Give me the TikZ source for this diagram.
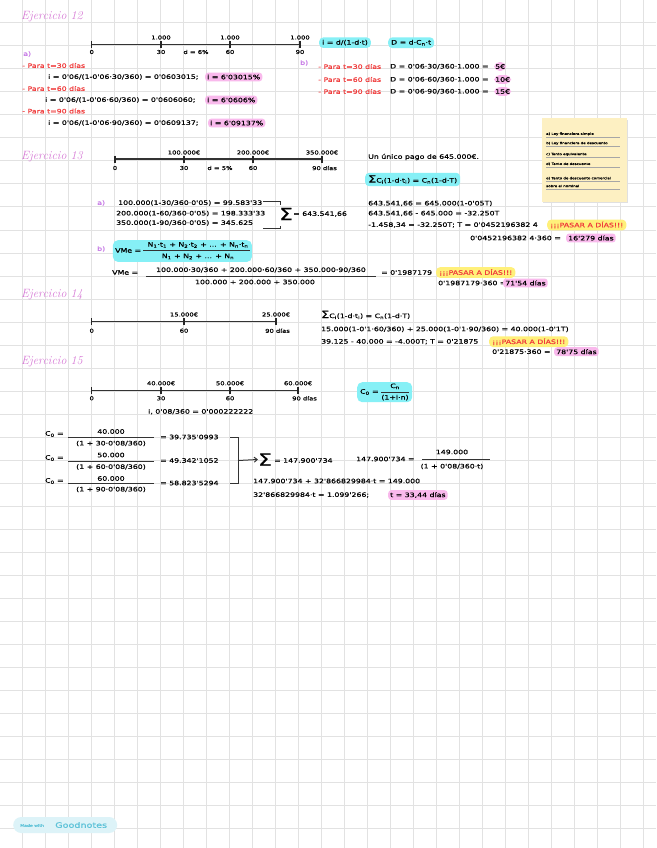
\documentclass[tikz,border=0pt]{standalone}
\usepackage{fontspec}
\newfontfamily\hw{DejaVu Sans}[FakeStretch=1.28, FakeBold=0.6]
\usetikzlibrary{arrows.meta}
\definecolor{gridc}{HTML}{E2E2E2}
\definecolor{titc}{HTML}{D77AD6}
\definecolor{redc}{HTML}{F03C3C}
\definecolor{vio}{HTML}{C77BE6}
\definecolor{pinkhl}{HTML}{F9B9EC}
\definecolor{cyanhl}{HTML}{86F0F6}
\definecolor{yelhl}{HTML}{FFF07A}
\definecolor{notec}{HTML}{FDF0C2}
\definecolor{gnbg}{HTML}{DDF3F8}
\definecolor{gntx}{HTML}{5CC2D8}
\newcommand\mysb[1]{\textsubscript{#1}}
\tikzset{
  tx/.style={inner sep=0pt, anchor=west, font=\hw\fontsize{6.1}{7}\selectfont},
  rt/.style={tx, text=redc},
  vt/.style={tx, text=vio},
  sm/.style={inner sep=0pt, font=\hw\fontsize{5.3}{6}\selectfont},
  ttl/.style={inner sep=0pt, anchor=west, text=titc, font=\fontsize{12}{13}\selectfont\itshape},
  pk/.style={tx, fill=pinkhl, rounded corners=3pt, inner xsep=2pt, inner ysep=2pt},
  cy/.style={tx, fill=cyanhl, rounded corners=4pt, inner xsep=3pt, inner ysep=2.5pt},
  yl/.style={tx, fill=yelhl, text=redc, rounded corners=4pt, inner xsep=3pt, inner ysep=2pt},
  axisl/.style={line width=1.4pt, black!80},
  tickl/.style={line width=1.1pt, black!85},
  frl/.style={line width=0.7pt, black!80},
  bigs/.style={inner sep=0pt, font=\hw\fontsize{17}{17}\selectfont},
  note/.style={inner sep=0pt, anchor=west, font=\hw\fontsize{3.1}{4}\selectfont},
}
\begin{document}
\begin{tikzpicture}[x=1pt,y=-1pt]
\useasboundingbox (0,0) rectangle (656,848);
\fill[white] (0,0) rectangle (656,848);
% grid
\foreach \k in {0,...,27} \draw[gridc, line width=0.9pt] (22.7+23*\k,0) -- (22.7+23*\k,848);
\foreach \k in {0,...,35} \draw[gridc, line width=0.9pt] (0,22.7+23.03*\k) -- (656,22.7+23.03*\k);

%================ Ejercicio 12
\node[ttl] (t12) at (21,17) {Ejercicio 12};
\coordinate (a0) at (91.7,44.3); \coordinate (a1) at (161,44.3);
\coordinate (a2) at (230,44.3); \coordinate (a3) at (300,44.3);
\draw[axisl] (a0) -- (a3);
\foreach \c in {a0,a1,a2,a3} \draw[tickl] (\c) ++(0,-3.5) -- ++(0,7);
\node[sm] (a1u) at (161,37.5) {1.000};
\node[sm] (a2u) at (230,37.5) {1.000};
\node[sm] (a3u) at (300,37.5) {1.000};
\node[sm] (a0d) at (91.7,52) {0};
\node[sm] (a1d) at (161,52) {30};
\node[sm] (ad) at (196,52) {d = 6\%};
\node[sm] (a2d) at (230,52) {60};
\node[sm] (a3d) at (300,52) {90};
\node[vt] (a12) at (23,54) {a)};
\node[rt] (r1) at (22,65.5) {- Para t=30 días};
\node[tx] (f1) at (48,77) {i = 0'06/(1-0'06·30/360) = 0'0603015;};
\node[pk] (h1) at (205,77) {i = 6'03015\%};
\node[rt] (r2) at (22,88.5) {- Para t=60 días};
\node[tx] (f2) at (45,100) {i = 0'06/(1-0'06·60/360) = 0'0606060;};
\node[pk] (h2) at (205,100) {i = 6'0606\%};
\node[rt] (r3) at (22,111) {- Para t=90 días};
\node[tx] (f3) at (48,123) {i = 0'06/(1-0'06·90/360) = 0'0609137;};
\node[pk] (h3) at (208,123) {i = 6'09137\%};
\node[cy] (c1) at (319,42.7) {i = d/(1-d·t)};
\node[cy] (c2) at (388,42.7) {D = d·C\mysb{n}·t};
\node[vt] (b12) at (300,63) {b)};
\node[rt] (r4) at (318,66.5) {- Para t=30 días};
\node[tx] (g1) at (390,66.5) {D = 0'06·30/360·1.000 =};
\node[pk, rounded corners=5pt, inner xsep=1pt] (k1) at (494,66.5) {5€};
\node[rt] (r5) at (318,79.5) {- Para t=60 días};
\node[tx] (g2) at (390,79.5) {D = 0'06·60/360·1.000 =};
\node[pk, rounded corners=5pt, inner xsep=1pt] (k2) at (494,79.5) {10€};
\node[rt] (r6) at (318,91.5) {- Para t=90 días};
\node[tx] (g3) at (390,91.5) {D = 0'06·90/360·1.000 =};
\node[pk, rounded corners=5pt, inner xsep=1pt] (k3) at (494,91.5) {15€};

% sticky note
\fill[black!12] (543,120) rectangle (628,203);
\node[fill=notec, minimum width=85pt, minimum height=83.4pt, inner sep=0, anchor=north west] (nt) at (541.7,118.3) {};
\foreach \yy/\tt in {134/{a) Ley financiera simple},143.3/{b) Ley financiera de descuento},154.3/{c) Tanto equivalente},164/{d) Tanto de descuento},178.3/{e) Tanto de descuento comercial},186/{sobre el nominal}}{
  \node[note] at (546,\yy) {\tt};
  \draw[black!35, line width=0.3pt] (546,\yy+3) -- (620,\yy+3);
}

%================ Ejercicio 13
\node[ttl] (t13) at (21,157) {Ejercicio 13};
\coordinate (b0) at (115,159); \coordinate (b1) at (184,159);
\coordinate (b2) at (253,159); \coordinate (b3) at (322,159);
\draw[axisl] (b0) -- (b3);
\foreach \c in {b0,b1,b2,b3} \draw[tickl] (\c) ++(0,-3.5) -- ++(0,7);
\node[sm] (b1u) at (184,152.5) {100.000€};
\node[sm] (b2u) at (253,152.5) {200.000€};
\node[sm] (b3u) at (322,152.5) {350.000€};
\node[sm] (b0d) at (115,168) {0};
\node[sm] (b1d) at (184,168) {30};
\node[sm] (bd) at (220,168) {d = 5\%};
\node[sm] (b2d) at (253,168) {60};
\node[sm, anchor=west] (b3d) at (312,168) {90 días};
\node[tx] (u1) at (368,157) {Un único pago de 645.000€.};
\node[cy] (c3) at (365,179.5) {{\fontsize{10}{10}\selectfont Σ}C\mysb{i}(1-d·t\mysb{i}) = C\mysb{n}(1-d·T)};
\node[tx] (u2) at (368,203.5) {643.541,66 = 645.000(1-0'05T)};
\node[tx] (u3) at (368,213.5) {643.541,66 - 645.000 = -32.250T};
\node[tx] (u4) at (368,225) {-1.458,34 = -32.250T;\ T = 0'0452196382 4};
\node[yl] (y1) at (547,225) {¡¡¡PASAR A DÍAS!!!};
\node[tx] (u5) at (470,238) {0'0452196382 4·360 =};
\node[pk] (h4) at (566,238) {16'279 días};

\node[vt] (a13) at (97,203) {a)};
\node[tx] (v1) at (118,203) {100.000(1-30/360·0'05) = 99.583'33};
\node[tx] (v2) at (116,213.5) {200.000(1-60/360·0'05) = 198.333'33};
\node[tx] (v3) at (116,223) {350.000(1-90/360·0'05) = 345.625};
\coordinate (bra) at (263,201.5); \coordinate (brb) at (280,201.5);
\coordinate (brc) at (263,228.5); \coordinate (brd) at (280,228.5);
\draw[frl, line width=1pt] (bra) -- (brb) -- ++(0,3);
\draw[frl, line width=1pt] (brc) -- (brd) -- ++(0,-3);
\node[bigs] (s1) at (286,214) {Σ};
\node[tx] (v4) at (293,214) {= 643.541,66};

\node[vt] (b13) at (97,249) {b)};
\node[fill=cyanhl, rounded corners=5pt, minimum width=139pt, minimum height=21.7pt, inner sep=0, anchor=north west] (cvm) at (112.7,240) {};
\node[tx] (vm1) at (115,250.5) {VMe =};
\node[tx, anchor=center] (vm1n) at (198,245) {N\mysb{1}·t\mysb{1} + N\mysb{2}·t\mysb{2} + ... + N\mysb{n}·t\mysb{n}};
\node[tx, anchor=center] (vm1d) at (198,256.5) {N\mysb{1} + N\mysb{2} + ... + N\mysb{n}};
\draw[frl] (143,250.5) -- (250,250.5);
\node[tx] (vm2) at (112,272.5) {VMe =};
\node[tx, anchor=center] (vm2n) at (261,270) {100.000·30/360 + 200.000·60/360 + 350.000·90/360};
\node[tx, anchor=center] (vm2d) at (255,282) {100.000 + 200.000 + 350.000};
\draw[frl] (146,276) -- (376,276);
\node[tx] (vm3) at (381,272.5) {= 0'1987179};
\node[yl] (y2) at (436,272.5) {¡¡¡PASAR A DÍAS!!!};
\node[tx] (vm4) at (438,283) {0'1987179·360 =};
\node[pk] (h5) at (503,283) {71'54 días};

%================ Ejercicio 14
\node[ttl] (t14) at (21,295) {Ejercicio 14};
\coordinate (c0) at (91.7,321.7); \coordinate (cc1) at (184,321.7); \coordinate (cc2) at (276,321.7);
\draw[axisl] (c0) -- (cc2);
\foreach \c in {c0,cc1,cc2} \draw[tickl] (\c) ++(0,-3.5) -- ++(0,7);
\node[sm] (c1u) at (184,314.5) {15.000€};
\node[sm] (c2u) at (276,314.5) {25.000€};
\node[sm] (c0d) at (91.7,330.7) {0};
\node[sm] (c1d) at (184,330.7) {60};
\node[sm, anchor=west] (c2d) at (265,330.7) {90 días};
\node[tx] (w1) at (321,315) {{\fontsize{10}{10}\selectfont Σ}C\mysb{i}(1-d·t\mysb{i}) = C\mysb{n}(1-d·T)};
\node[tx] (w2) at (321,329.3) {15.000(1-0'1·60/360) + 25.000(1-0'1·90/360) = 40.000(1-0'1T)};
\node[tx] (w3) at (321,341.7) {39.125 - 40.000 = -4.000T;\ T = 0'21875};
\node[yl] (y3) at (489,341.7) {¡¡¡PASAR A DÍAS!!!};
\node[tx] (w4) at (492,351.7) {0'21875·360 =};
\node[pk] (h6) at (554,351.7) {78'75 días};

%================ Ejercicio 15
\node[ttl] (t15) at (21,361.7) {Ejercicio 15};
\coordinate (d0) at (91.7,390.7); \coordinate (d1) at (161,390.7);
\coordinate (d2) at (230,390.7); \coordinate (d3) at (298,390.7);
\draw[axisl] (d0) -- (d3);
\foreach \c in {d0,d1,d2,d3} \draw[tickl] (\c) ++(0,-3.5) -- ++(0,7);
\node[sm] (d1u) at (161,383.3) {40.000€};
\node[sm] (d2u) at (230,383.3) {50.000€};
\node[sm] (d3u) at (298,383.3) {60.000€};
\node[sm] (d0d) at (91.7,398.3) {0};
\node[sm] (d1d) at (161,398.3) {30};
\node[sm] (d2d) at (230,398.3) {60};
\node[sm, anchor=west] (d3d) at (292,398.3) {90 días};
\node[tx] (e1) at (148,411.7) {i, 0'08/360 = 0'000222222};
\node[fill=cyanhl, rounded corners=5pt, minimum width=55pt, minimum height=20pt, inner sep=0, anchor=north west] (cc0) at (357,382) {};
\node[tx] (cf1) at (360,392) {C\mysb{0} =};
\node[tx, anchor=center] (cf1n) at (395,386.3) {C\mysb{n}};
\node[tx, anchor=center] (cf1d) at (395,397.6) {(1+i·n)};
\draw[frl] (381,392) -- (409,392);

\node[tx] (q1) at (45,434) {C\mysb{0} =};
\node[tx, anchor=center] (q1n) at (111,431.5) {40.000};
\node[tx, anchor=center] (q1d) at (111,443.5) {(1 + 30·0'08/360)};
\draw[frl] (68,437.5) -- (154,437.5);
\node[tx] (q1r) at (160,437) {= 39.735'0993};
\node[tx] (q2) at (45,458) {C\mysb{0} =};
\node[tx, anchor=center] (q2n) at (111,455) {50.000};
\node[tx, anchor=center] (q2d) at (111,467) {(1 + 60·0'08/360)};
\draw[frl] (68,461) -- (154,461);
\node[tx] (q2r) at (160,460.5) {= 49.342'1052};
\node[tx] (q3) at (45,481) {C\mysb{0} =};
\node[tx, anchor=center] (q3n) at (111,478.5) {60.000};
\node[tx, anchor=center] (q3d) at (111,489.5) {(1 + 90·0'08/360)};
\draw[frl] (68,483.5) -- (154,483.5);
\node[tx] (q3r) at (160,483) {= 58.823'5294};
\coordinate (ba) at (230,437.5); \coordinate (bb) at (238,437.5);
\coordinate (bc) at (238,483.5); \coordinate (bd) at (230,483.5);
\coordinate (bm) at (238,460.5);
\draw[frl, line width=1pt] (ba) -- (bb) -- (bc) -- (bd);
\node[bigs] (s2) at (265,459.5) {Σ};
\draw[frl, line width=1pt, -{Straight Barb[length=3pt,width=5pt]}] (bm) -- (s2.west);
\node[tx] (s2r) at (274,460.5) {= 147.900'734};
\node[tx] (p1) at (356,459) {147.900'734 =};
\node[tx, anchor=center] (p1n) at (452,452) {149.000};
\node[tx, anchor=center] (p1d) at (452,466.5) {(1 + 0'08/360·t)};
\draw[frl] (422,459.5) -- (490,459.5);
\node[tx] (p2) at (253,481) {147.900'734 + 32'866829984·t = 149.000};
\node[tx] (p3) at (253,495) {32'866829984·t = 1.099'266;};
\node[pk] (h7) at (388,495) {t = 33,44 días};

%================ Goodnotes badge
\node[fill=gnbg, rounded corners=8pt, minimum width=104pt, minimum height=16pt, inner sep=0, anchor=west] (gn) at (13,825) {};
\node[inner sep=0, anchor=west, text=gntx, font=\hw\fontsize{3.6}{4}\selectfont] (gn1) at (20,825.5) {Made with};
\node[inner sep=0, anchor=west, text=gntx, font=\hw\fontsize{7.5}{8}\selectfont] (gn2) at (55,825) {Goodnotes};
\end{tikzpicture}
\end{document}
